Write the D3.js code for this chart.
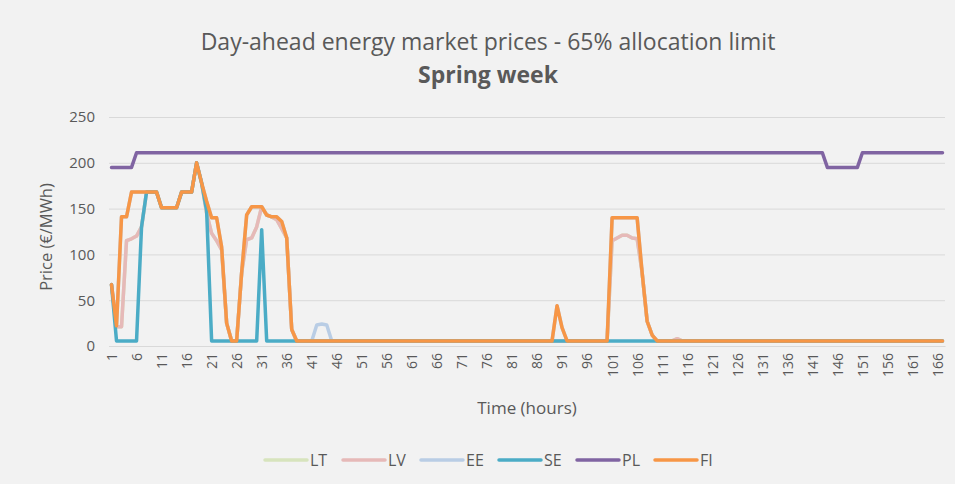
<!DOCTYPE html>
<html>
<head>
<meta charset="utf-8">
<script src="https://cdn.jsdelivr.net/npm/d3@7"></script>
<style>
  body { margin: 0; background: #f2f2f2; }
  text { font-family: "Open Sans", sans-serif; fill: #595959; }
</style>
</head>
<body>
<svg id="chart"></svg>
<script>
// Data: hourly prices (EUR/MWh), hours 1..167
const hours = d3.range(1, 168);
const tickLabels = hours.filter((h, i) => i % 5 === 0);
const yTicks = [0, 50, 100, 150, 200, 250];
const seriesNames = ['LT', 'LV', 'EE', 'SE', 'PL', 'FI'];
const seriesColors = ['#d7e4bd', '#e6b9b8', '#b9cde5', '#4bacc6', '#8064a2', '#f79646'];

const LT = [
  67, 21, 21, 115, 117, 120, 130, 168, 168, 168,
  151, 151, 151, 151, 168, 168, 168, 200, 178, 145,
  123, 115, 105, 25, 5.5, 5.5, 80, 116, 118, 130,
  152, 143, 141, 138, 128, 118, 18, 5.5, 5.5, 5.5,
  5.5, 5.5, 5.5, 5.5, 5.5, 5.5, 5.5, 5.5, 5.5, 5.5,
  5.5, 5.5, 5.5, 5.5, 5.5, 5.5, 5.5, 5.5, 5.5, 5.5,
  5.5, 5.5, 5.5, 5.5, 5.5, 5.5, 5.5, 5.5, 5.5, 5.5,
  5.5, 5.5, 5.5, 5.5, 5.5, 5.5, 5.5, 5.5, 5.5, 5.5,
  5.5, 5.5, 5.5, 5.5, 5.5, 5.5, 5.5, 5.5, 5.5, 5.5,
  5.5, 5.5, 5.5, 5.5, 5.5, 5.5, 5.5, 5.5, 5.5, 5.5,
  115, 118, 121, 121, 118, 117, 80, 27, 12, 5.5,
  5.5, 5.5, 5.5, 8, 5.5, 5.5, 5.5, 5.5, 5.5, 5.5,
  5.5, 5.5, 5.5, 5.5, 5.5, 5.5, 5.5, 5.5, 5.5, 5.5,
  5.5, 5.5, 5.5, 5.5, 5.5, 5.5, 5.5, 5.5, 5.5, 5.5,
  5.5, 5.5, 5.5, 5.5, 5.5, 5.5, 5.5, 5.5, 5.5, 5.5,
  5.5, 5.5, 5.5, 5.5, 5.5, 5.5, 5.5, 5.5, 5.5, 5.5,
  5.5, 5.5, 5.5, 5.5, 5.5, 5.5, 5.5
];

const LV = [
  67, 21, 21, 115, 117, 120, 130, 168, 168, 168,
  151, 151, 151, 151, 168, 168, 168, 200, 178, 145,
  123, 115, 105, 25, 5.5, 5.5, 80, 116, 118, 130,
  152, 143, 141, 138, 128, 118, 18, 5.5, 5.5, 5.5,
  5.5, 5.5, 5.5, 5.5, 5.5, 5.5, 5.5, 5.5, 5.5, 5.5,
  5.5, 5.5, 5.5, 5.5, 5.5, 5.5, 5.5, 5.5, 5.5, 5.5,
  5.5, 5.5, 5.5, 5.5, 5.5, 5.5, 5.5, 5.5, 5.5, 5.5,
  5.5, 5.5, 5.5, 5.5, 5.5, 5.5, 5.5, 5.5, 5.5, 5.5,
  5.5, 5.5, 5.5, 5.5, 5.5, 5.5, 5.5, 5.5, 5.5, 5.5,
  5.5, 5.5, 5.5, 5.5, 5.5, 5.5, 5.5, 5.5, 5.5, 5.5,
  115, 118, 121, 121, 118, 117, 80, 27, 12, 5.5,
  5.5, 5.5, 5.5, 8, 5.5, 5.5, 5.5, 5.5, 5.5, 5.5,
  5.5, 5.5, 5.5, 5.5, 5.5, 5.5, 5.5, 5.5, 5.5, 5.5,
  5.5, 5.5, 5.5, 5.5, 5.5, 5.5, 5.5, 5.5, 5.5, 5.5,
  5.5, 5.5, 5.5, 5.5, 5.5, 5.5, 5.5, 5.5, 5.5, 5.5,
  5.5, 5.5, 5.5, 5.5, 5.5, 5.5, 5.5, 5.5, 5.5, 5.5,
  5.5, 5.5, 5.5, 5.5, 5.5, 5.5, 5.5
];

const EE = [
  67, 22, 141, 141, 168, 168, 168, 168, 168, 168,
  151, 151, 151, 151, 168, 168, 168, 200, 178, 158,
  140, 140, 108, 25, 5.5, 5.5, 80, 143, 152, 152,
  152, 143, 141, 141, 136, 118, 18, 5.5, 5.5, 5.5,
  5.5, 23, 24, 23, 5.5, 5.5, 5.5, 5.5, 5.5, 5.5,
  5.5, 5.5, 5.5, 5.5, 5.5, 5.5, 5.5, 5.5, 5.5, 5.5,
  5.5, 5.5, 5.5, 5.5, 5.5, 5.5, 5.5, 5.5, 5.5, 5.5,
  5.5, 5.5, 5.5, 5.5, 5.5, 5.5, 5.5, 5.5, 5.5, 5.5,
  5.5, 5.5, 5.5, 5.5, 5.5, 5.5, 5.5, 5.5, 5.5, 44,
  20, 5.5, 5.5, 5.5, 5.5, 5.5, 5.5, 5.5, 5.5, 5.5,
  140, 140, 140, 140, 140, 140, 80, 27, 12, 5.5,
  5.5, 5.5, 5.5, 5.5, 5.5, 5.5, 5.5, 5.5, 5.5, 5.5,
  5.5, 5.5, 5.5, 5.5, 5.5, 5.5, 5.5, 5.5, 5.5, 5.5,
  5.5, 5.5, 5.5, 5.5, 5.5, 5.5, 5.5, 5.5, 5.5, 5.5,
  5.5, 5.5, 5.5, 5.5, 5.5, 5.5, 5.5, 5.5, 5.5, 5.5,
  5.5, 5.5, 5.5, 5.5, 5.5, 5.5, 5.5, 5.5, 5.5, 5.5,
  5.5, 5.5, 5.5, 5.5, 5.5, 5.5, 5.5
];

const SE = [
  67, 5.5, 5.5, 5.5, 5.5, 5.5, 130, 168, 168, 168,
  151, 151, 151, 151, 168, 168, 168, 200, 178, 148,
  5.5, 5.5, 5.5, 5.5, 5.5, 5.5, 5.5, 5.5, 5.5, 5.5,
  127, 5.5, 5.5, 5.5, 5.5, 5.5, 5.5, 5.5, 5.5, 5.5,
  5.5, 5.5, 5.5, 5.5, 5.5, 5.5, 5.5, 5.5, 5.5, 5.5,
  5.5, 5.5, 5.5, 5.5, 5.5, 5.5, 5.5, 5.5, 5.5, 5.5,
  5.5, 5.5, 5.5, 5.5, 5.5, 5.5, 5.5, 5.5, 5.5, 5.5,
  5.5, 5.5, 5.5, 5.5, 5.5, 5.5, 5.5, 5.5, 5.5, 5.5,
  5.5, 5.5, 5.5, 5.5, 5.5, 5.5, 5.5, 5.5, 5.5, 5.5,
  5.5, 5.5, 5.5, 5.5, 5.5, 5.5, 5.5, 5.5, 5.5, 5.5,
  5.5, 5.5, 5.5, 5.5, 5.5, 5.5, 5.5, 5.5, 5.5, 5.5,
  5.5, 5.5, 5.5, 5.5, 5.5, 5.5, 5.5, 5.5, 5.5, 5.5,
  5.5, 5.5, 5.5, 5.5, 5.5, 5.5, 5.5, 5.5, 5.5, 5.5,
  5.5, 5.5, 5.5, 5.5, 5.5, 5.5, 5.5, 5.5, 5.5, 5.5,
  5.5, 5.5, 5.5, 5.5, 5.5, 5.5, 5.5, 5.5, 5.5, 5.5,
  5.5, 5.5, 5.5, 5.5, 5.5, 5.5, 5.5, 5.5, 5.5, 5.5,
  5.5, 5.5, 5.5, 5.5, 5.5, 5.5, 5.5
];

const PL = [
  195, 195, 195, 195, 195, 211, 211, 211, 211, 211,
  211, 211, 211, 211, 211, 211, 211, 211, 211, 211,
  211, 211, 211, 211, 211, 211, 211, 211, 211, 211,
  211, 211, 211, 211, 211, 211, 211, 211, 211, 211,
  211, 211, 211, 211, 211, 211, 211, 211, 211, 211,
  211, 211, 211, 211, 211, 211, 211, 211, 211, 211,
  211, 211, 211, 211, 211, 211, 211, 211, 211, 211,
  211, 211, 211, 211, 211, 211, 211, 211, 211, 211,
  211, 211, 211, 211, 211, 211, 211, 211, 211, 211,
  211, 211, 211, 211, 211, 211, 211, 211, 211, 211,
  211, 211, 211, 211, 211, 211, 211, 211, 211, 211,
  211, 211, 211, 211, 211, 211, 211, 211, 211, 211,
  211, 211, 211, 211, 211, 211, 211, 211, 211, 211,
  211, 211, 211, 211, 211, 211, 211, 211, 211, 211,
  211, 211, 211, 195, 195, 195, 195, 195, 195, 195,
  211, 211, 211, 211, 211, 211, 211, 211, 211, 211,
  211, 211, 211, 211, 211, 211, 211
];

const FI = [
  67, 22, 141, 141, 168, 168, 168, 168, 168, 168,
  151, 151, 151, 151, 168, 168, 168, 200, 178, 158,
  140, 140, 108, 25, 5.5, 5.5, 80, 143, 152, 152,
  152, 143, 141, 141, 136, 118, 18, 5.5, 5.5, 5.5,
  5.5, 5.5, 5.5, 5.5, 5.5, 5.5, 5.5, 5.5, 5.5, 5.5,
  5.5, 5.5, 5.5, 5.5, 5.5, 5.5, 5.5, 5.5, 5.5, 5.5,
  5.5, 5.5, 5.5, 5.5, 5.5, 5.5, 5.5, 5.5, 5.5, 5.5,
  5.5, 5.5, 5.5, 5.5, 5.5, 5.5, 5.5, 5.5, 5.5, 5.5,
  5.5, 5.5, 5.5, 5.5, 5.5, 5.5, 5.5, 5.5, 5.5, 44,
  20, 5.5, 5.5, 5.5, 5.5, 5.5, 5.5, 5.5, 5.5, 5.5,
  140, 140, 140, 140, 140, 140, 80, 27, 12, 5.5,
  5.5, 5.5, 5.5, 5.5, 5.5, 5.5, 5.5, 5.5, 5.5, 5.5,
  5.5, 5.5, 5.5, 5.5, 5.5, 5.5, 5.5, 5.5, 5.5, 5.5,
  5.5, 5.5, 5.5, 5.5, 5.5, 5.5, 5.5, 5.5, 5.5, 5.5,
  5.5, 5.5, 5.5, 5.5, 5.5, 5.5, 5.5, 5.5, 5.5, 5.5,
  5.5, 5.5, 5.5, 5.5, 5.5, 5.5, 5.5, 5.5, 5.5, 5.5,
  5.5, 5.5, 5.5, 5.5, 5.5, 5.5, 5.5
];

const seriesValues = [LT, LV, EE, SE, PL, FI];

// Dimensions
let width = 955, height = 484;
let plot = { left: 109, right: 945, top: 117, bottom: 346 };

let svg = d3.select('#chart')
  .attr('width', width)
  .attr('height', height)
  .style('background', '#f2f2f2');

// Scales
let xScale = d3.scalePoint()
  .domain(hours)
  .range([plot.left, plot.right])
  .padding(0.5);

let yScale = d3.scaleLinear()
  .domain([0, 250])
  .range([plot.bottom, plot.top]);

// Gridlines + y labels
let yAxis = svg.append('g')
  .attr('transform', `translate(${plot.left}, 0)`)
  .call(d3.axisLeft(yScale).tickValues(yTicks)
    .tickSize(-(plot.right - plot.left)).tickPadding(14));
yAxis.select('.domain').remove();
yAxis.selectAll('line').attr('stroke', '#d9d9d9');
yAxis.selectAll('text')
  .style('font-size', '15px')
  .style('fill', '#595959');

// x axis with rotated labels
let xAxis = svg.append('g')
  .attr('transform', `translate(0, ${plot.bottom})`)
  .call(d3.axisBottom(xScale).tickValues(tickLabels).tickSize(0));
xAxis.select('.domain').attr('stroke', '#d9d9d9');
xAxis.selectAll('text')
  .style('font-size', '14px')
  .style('fill', '#595959')
  .attr('text-anchor', 'end')
  .attr('x', 0)
  .attr('y', 0)
  .attr('dy', '0.35em')
  .attr('transform', 'translate(0, 7) rotate(-90)');

// Lines
let line = d3.line()
  .x((d, i) => xScale(hours[i]))
  .y(d => yScale(d));

svg.append('g')
  .selectAll('path')
  .data(seriesValues)
  .enter()
  .append('path')
  .attr('d', line)
  .attr('fill', 'none')
  .attr('stroke', (d, i) => seriesColors[i])
  .attr('stroke-width', 3.5)
  .attr('stroke-linejoin', 'round')
  .attr('stroke-linecap', 'round');

// Titles
svg.append('text')
  .attr('x', 488)
  .attr('y', 50)
  .attr('text-anchor', 'middle')
  .style('font-size', '23px')
  .text('Day-ahead energy market prices - 65% allocation limit');

svg.append('text')
  .attr('x', 488)
  .attr('y', 83)
  .attr('text-anchor', 'middle')
  .style('font-size', '23px')
  .style('font-weight', 'bold')
  .text('Spring week');

svg.append('text')
  .attr('transform', 'translate(52, 237) rotate(-90)')
  .attr('text-anchor', 'middle')
  .style('font-size', '16.5px')
  .text('Price (€/MWh)');

svg.append('text')
  .attr('x', 527)
  .attr('y', 414)
  .attr('text-anchor', 'middle')
  .style('font-size', '17px')
  .text('Time (hours)');

// Legend
let legend = svg.append('g')
  .selectAll('g')
  .data(seriesNames)
  .enter()
  .append('g')
  .attr('transform', (d, i) => `translate(${265 + i * 78}, 460)`);

legend.append('line')
  .attr('x1', 0).attr('x2', 42)
  .attr('stroke', (d, i) => seriesColors[i])
  .attr('stroke-width', 3.5)
  .attr('stroke-linecap', 'round');

legend.append('text')
  .attr('x', 45)
  .attr('dy', '0.35em')
  .style('font-size', '16px')
  .text(d => d);
</script>
</body>
</html>
